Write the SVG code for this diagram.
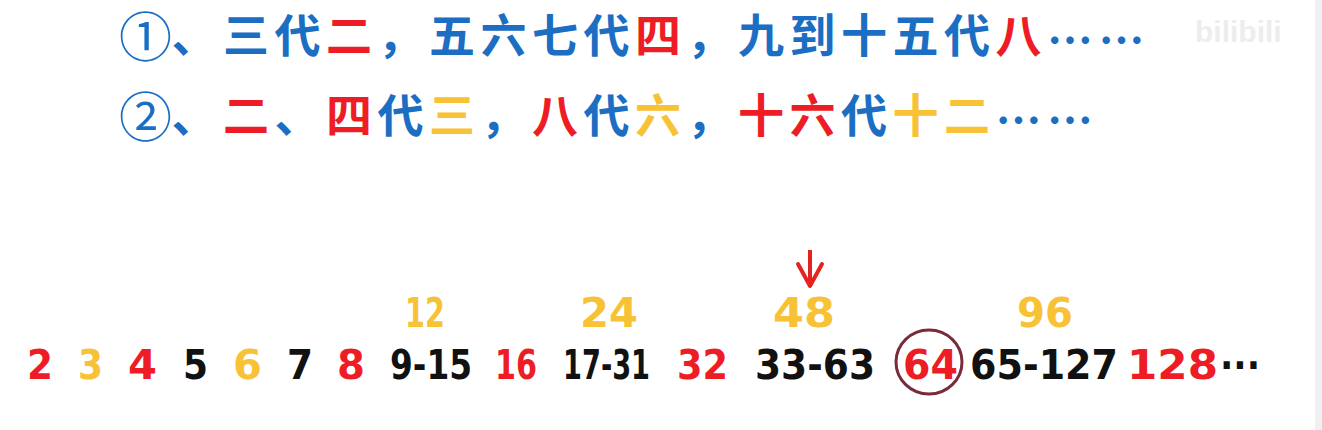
<svg xmlns="http://www.w3.org/2000/svg" width="1322" height="430" viewBox="0 0 1322 430">
<style>
.cjk{font-family:"Noto Sans CJK SC","Noto Sans",sans-serif;font-weight:700;font-size:46px}
.circ{font-family:"Noto Sans CJK SC","Noto Sans",sans-serif;font-weight:400;font-size:53px;fill:#1b6ec2}
.b{fill:#1b6ec2}.r{fill:#ee1c24}.y{fill:#f8c236}.k{fill:#111111}
.num{font-family:"DejaVu Sans",sans-serif;font-weight:700;font-size:41px}
</style>
<defs>
<marker id="ah" viewBox="0 0 28 30" refX="25" refY="15" markerWidth="28" markerHeight="30" markerUnits="userSpaceOnUse" orient="auto">
<path d="M3,3 L25,15 L3,27" fill="none" stroke="#e42320" stroke-width="4" stroke-linecap="round" stroke-linejoin="round"/>
</marker>
</defs>
<rect width="1322" height="430" fill="#ffffff"/>
<rect x="1315" y="0" width="7" height="430" fill="#f0f0f2"/>
<text x="1195" y="42" font-family="Liberation Sans,sans-serif" font-weight="700" font-size="30" fill="#ededf0">bilibili</text>

<g id="line1">
<text class="circ" x="119" y="57">①</text>
<text class="cjk"><tspan class="b" x="171.5 223 274.5" y="52">、三代</tspan><tspan class="r" x="326" y="52">二</tspan><tspan class="b" x="377.5 429 480.5 532 583.5" y="52">，五六七代</tspan><tspan class="r" x="635" y="52">四</tspan><tspan class="b" x="686.5 738 789.5 841 892.5 944" y="52">，九到十五代</tspan><tspan class="r" x="995.5" y="52">八</tspan><tspan class="b" x="1047 1098.5" y="57">……</tspan></text>
</g>

<g id="line2">
<text class="circ" x="119" y="137">②</text>
<text class="cjk"><tspan class="b" x="171.5" y="132">、</tspan><tspan class="r" x="223" y="132">二</tspan><tspan class="b" x="274.5" y="132">、</tspan><tspan class="r" x="326" y="132">四</tspan><tspan class="b" x="377.5" y="132">代</tspan><tspan class="y" x="429" y="132">三</tspan><tspan class="b" x="480.5" y="132">，</tspan><tspan class="r" x="532" y="132">八</tspan><tspan class="b" x="583.5" y="132">代</tspan><tspan class="y" x="635" y="132">六</tspan><tspan class="b" x="686.5" y="132">，</tspan><tspan class="r" x="738 789.5" y="132">十六</tspan><tspan class="b" x="841" y="132">代</tspan><tspan class="y" x="892.5 944" y="132">十二</tspan><tspan class="b" x="995.5 1047" y="137">……</tspan></text>
</g>

<g id="upper-numbers" class="num">
<text id="n12" class="y" transform="translate(405 327) scale(0.7 1)">12</text>
<text id="n24" class="y" x="580" y="327" textLength="58" lengthAdjust="spacingAndGlyphs">24</text>
<text id="n48" class="y" x="773" y="327" textLength="62" lengthAdjust="spacingAndGlyphs">48</text>
<text id="n96" class="y" x="1017" y="327" textLength="56" lengthAdjust="spacingAndGlyphs">96</text>
</g>

<g id="sequence" class="num">
<text id="s2" class="r" x="27" y="379" textLength="26" lengthAdjust="spacingAndGlyphs">2</text>
<text id="s3" class="y" x="78" y="379" textLength="25" lengthAdjust="spacingAndGlyphs">3</text>
<text id="s4" class="r" x="128" y="379" textLength="29" lengthAdjust="spacingAndGlyphs">4</text>
<text id="s5" class="k" x="183" y="379" textLength="25" lengthAdjust="spacingAndGlyphs">5</text>
<text id="s6" class="y" x="233" y="379" textLength="29" lengthAdjust="spacingAndGlyphs">6</text>
<text id="s7" class="k" x="287" y="379" textLength="26" lengthAdjust="spacingAndGlyphs">7</text>
<text id="s8" class="r" x="337" y="379" textLength="28" lengthAdjust="spacingAndGlyphs">8</text>
<text id="s9-15" class="k" transform="translate(390 379) scale(0.8 1)">9-15</text>
<text id="s16" class="r" transform="translate(495 379) scale(0.737 1)">16</text>
<text id="s17-31" class="k" transform="translate(563 379) scale(0.664 1)">17-31</text>
<text id="s32" class="r" x="677" y="379" textLength="51" lengthAdjust="spacingAndGlyphs">32</text>
<text id="s33-63" class="k" x="755" y="379" textLength="120" lengthAdjust="spacingAndGlyphs">33-63</text>
<g id="s64">
<ellipse cx="929" cy="362" rx="33" ry="32" fill="none" stroke="#7a2b3b" stroke-width="3"/>
<text class="r" x="903" y="379" textLength="55" lengthAdjust="spacingAndGlyphs">64</text>
</g>
<text id="s65-127" class="k" x="970" y="379" textLength="148" lengthAdjust="spacingAndGlyphs">65-127</text>
<text id="s128" class="r" x="1127" y="379" textLength="91" lengthAdjust="spacingAndGlyphs">128</text>
<text id="sdots" class="k" x="1220" y="379" textLength="40" lengthAdjust="spacingAndGlyphs">···</text>
</g>

<g id="connectors">
<line x1="810" y1="250" x2="810" y2="286" stroke="#e42320" stroke-width="4" marker-end="url(#ah)"/>
</g>
</svg>
